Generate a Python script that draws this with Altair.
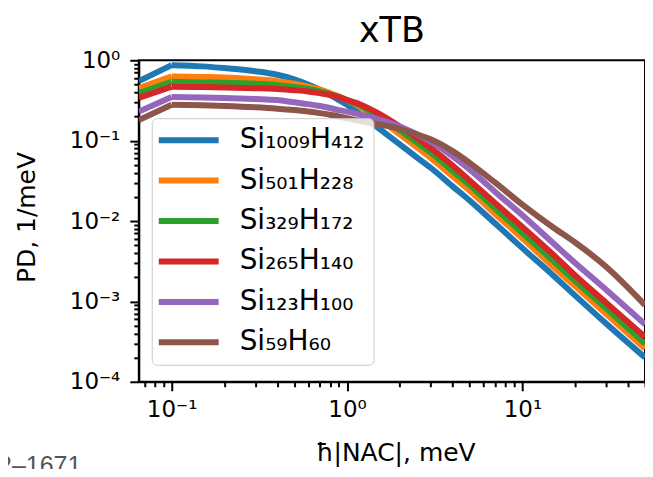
import altair as alt
import pandas as pd

x_vals = [0.065, 0.1, 0.15, 0.2, 0.3, 0.4, 0.5, 0.6, 0.7, 0.8, 0.9, 1.0, 1.2, 1.5,
          2.0, 2.5, 3.0, 4.0, 5.0, 7.0, 10.0, 15.0, 20.0, 30.0, 50.0]

names = ["Si₁₀₀₉H₄₁₂", "Si₅₀₁H₂₂₈", "Si₃₂₉H₁₇₂", "Si₂₆₅H₁₄₀", "Si₁₂₃H₁₀₀", "Si₅₉H₆₀"]
colors = ["#1f77b4", "#ff7f0e", "#2ca02c", "#d62728", "#9467bd", "#8c564b"]

pd_1009 = [0.55, 0.87, 0.84, 0.80, 0.73, 0.66, 0.58, 0.50, 0.43, 0.37, 0.32, 0.28, 0.21, 0.145,
           0.09, 0.062, 0.046, 0.027, 0.018, 0.0093, 0.0046, 0.0021, 0.00118, 0.00053, 0.0002]
pd_501 = [0.45, 0.63, 0.62, 0.61, 0.58, 0.55, 0.51, 0.47, 0.43, 0.39, 0.355, 0.32, 0.26, 0.19,
          0.12, 0.083, 0.061, 0.036, 0.024, 0.0122, 0.0061, 0.0027, 0.00155, 0.0007, 0.00026]
pd_329 = [0.39, 0.54, 0.53, 0.525, 0.51, 0.49, 0.465, 0.44, 0.41, 0.38, 0.35, 0.32, 0.27, 0.205,
          0.135, 0.095, 0.071, 0.042, 0.028, 0.0143, 0.0071, 0.0032, 0.0018, 0.00082, 0.0003]
pd_265 = [0.34, 0.47, 0.465, 0.46, 0.45, 0.44, 0.425, 0.41, 0.39, 0.37, 0.345, 0.32, 0.28, 0.22,
          0.15, 0.108, 0.081, 0.049, 0.032, 0.0167, 0.0084, 0.0038, 0.0021, 0.00096, 0.00036]
pd_123 = [0.23, 0.35, 0.345, 0.34, 0.33, 0.32, 0.30, 0.285, 0.27, 0.255, 0.24, 0.23, 0.21, 0.185,
          0.15, 0.12, 0.097, 0.064, 0.044, 0.023, 0.0118, 0.0053, 0.003, 0.0014, 0.00052]
pd_59 = [0.18, 0.28, 0.275, 0.27, 0.26, 0.25, 0.24, 0.23, 0.22, 0.21, 0.20, 0.19, 0.175, 0.16,
         0.14, 0.12, 0.104, 0.074, 0.053, 0.03, 0.016, 0.0083, 0.0054, 0.0027, 0.0009]

series = [pd_1009, pd_501, pd_329, pd_265, pd_123, pd_59]

x_major = [0.1, 1, 10]
x_minor = [0.07, 0.08, 0.09, 0.2, 0.3, 0.4, 0.5, 0.6, 0.7, 0.8, 0.9,
           2, 3, 4, 5, 6, 7, 8, 9, 20, 30, 40, 50]
y_major = [1e-4, 1e-3, 1e-2, 1e-1, 1]
y_minor = [k * 10.0 ** d for d in (-4, -3, -2, -1) for k in range(2, 10)]

rows = []
for name, vals in zip(names, series):
    for x, y in zip(x_vals, vals):
        rows.append({"x": x, "y": y, "series": name})
df = pd.DataFrame(rows)

FONT = "DejaVu Sans"
is_major = "abs(log(datum.value)/LN10 - round(log(datum.value)/LN10)) < 0.001"
exp_label = ("!(" + is_major + ") ? '' : "
             "round(log(datum.value)/LN10) == 0 ? '10⁰' : "
             "round(log(datum.value)/LN10) == 1 ? '10¹' : "
             "round(log(datum.value)/LN10) == -1 ? '10⁻¹' : "
             "round(log(datum.value)/LN10) == -2 ? '10⁻²' : "
             "round(log(datum.value)/LN10) == -3 ? '10⁻³' : "
             "round(log(datum.value)/LN10) == -4 ? '10⁻⁴' : ''")

tick_size = {"condition": {"test": is_major, "value": 9}, "value": 5}

x_enc = alt.X("x:Q",
              scale=alt.Scale(type="log", domain=[0.065, 50], nice=False),
              axis=alt.Axis(values=x_major + x_minor, labelExpr=exp_label,
                            tickSize=tick_size, title="ħ|NAC|, meV",
                            titleX=257, titleY=71, titleBaseline="middle",
                            titleAlign="center", labelOverlap=False,
                            labelFlush=False, grid=False, labelPadding=8))
y_enc = alt.Y("y:Q",
              scale=alt.Scale(type="log", domain=[1e-4, 1], nice=False),
              axis=alt.Axis(values=y_major + y_minor, labelExpr=exp_label,
                            tickSize=tick_size, title="PD, 1/meV",
                            titleX=-112, titleY=157, titleAngle=-90,
                            titleBaseline="middle", titleAlign="center",
                            labelOverlap=False, labelFlush=False, grid=False,
                            labelPadding=10))
c_enc = alt.Color("series:N", sort=names,
                  scale=alt.Scale(domain=names, range=colors),
                  legend=alt.Legend(orient="none", legendX=13, legendY=58,
                                    title=None, symbolType="M-1.5,0H4.5",
                                    symbolStrokeWidth=6, symbolSize=400,
                                    labelFontSize=28, labelFont=FONT,
                                    labelColor="black", labelOffset=52,
                                    fillColor="rgba(255,255,255,0.8)",
                                    strokeColor="#cccccc", cornerRadius=5,
                                    padding=8, rowPadding=12.5,
                                    labelLimit=400))

base = alt.Chart(df)
# first bin (straight rise to the peak) and the smooth rest of each curve
first_bin = base.transform_filter("datum.x <= 0.1").mark_line(
    strokeWidth=6, clip=True).encode(x=x_enc, y=y_enc, color=c_enc)
rest = base.transform_filter("datum.x >= 0.1").mark_line(
    strokeWidth=6, clip=True, interpolate="monotone").encode(x=x_enc, y=y_enc, color=c_enc)

note = alt.Chart(pd.DataFrame({"t": ["2–1671"]})).mark_text(
    align="left", baseline="alphabetic", fontSize=25, font="Liberation Sans",
    color="#555555").encode(x=alt.value(-141), y=alt.value(414), text="t:N")

chart = alt.layer(first_bin, rest, note).properties(
    width=507, height=322,
    title=alt.TitleParams("xTB", fontSize=35, font=FONT, fontWeight="normal",
                          anchor="middle", offset=0, color="black"),
    autosize=alt.AutoSizeParams(type="none"),
    padding={"left": 131, "top": 52, "right": 0, "bottom": 87},
).configure_view(stroke="black", strokeWidth=2).configure_axis(
    labelFont=FONT, labelFontSize=23, labelColor="black",
    titleFont=FONT, titleFontSize=25, titleFontWeight="normal",
    titleColor="black", domainColor="black", domainWidth=2,
    tickColor="black", tickWidth=2,
)

chart.save("out.html", embed_options={"renderer": "svg", "actions": False})
